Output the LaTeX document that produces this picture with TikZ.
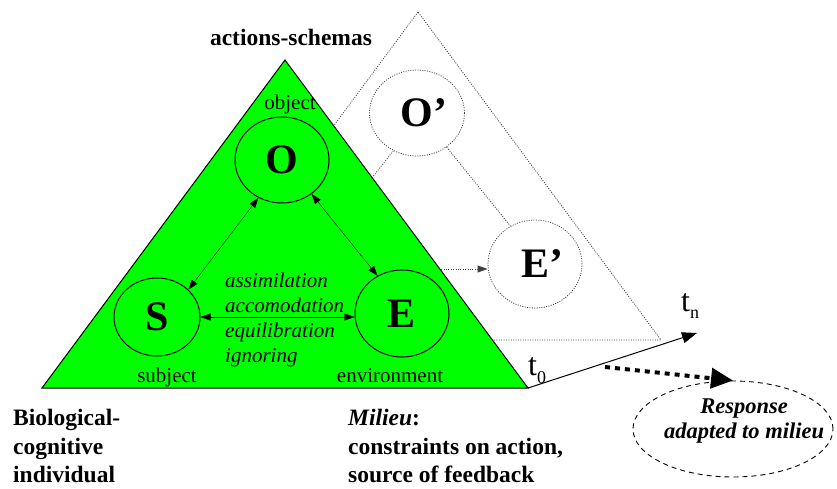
\documentclass[tikz,border=0pt]{standalone}
\usepackage{fontspec}
\setmainfont{Liberation Serif}[
 BoldFont={Liberation Serif Bold},
 ItalicFont={Liberation Serif Italic},
 BoldItalicFont={Liberation Serif Bold Italic}]
\usetikzlibrary{shapes.geometric,arrows.meta}

\definecolor{leafgreen}{RGB}{0,255,0}

\tikzset{
 circ/.style={draw, ellipse, inner sep=0pt, line width=1bp, font=\fontsize{42bp}{46bp}\selectfont\bfseries},
 copycirc/.style={circ, draw=black!75, dash pattern=on 1bp off 1.4bp, line width=0.8bp},
 thindot/.style={draw=black!75, dash pattern=on 1bp off 1.4bp, line width=0.8bp},
 tag/.style={inner sep=0pt, anchor=base, font=\fontsize{21bp}{25bp}\selectfont},
 heading/.style={inner sep=0pt, font=\fontsize{23.5bp}{28.5bp}\selectfont\bfseries},
 tip/.style={-{Triangle[length=10bp,width=7bp]}},
 bothtips/.style={{Triangle[length=10bp,width=7bp]}-{Triangle[length=10bp,width=7bp]}},
 tfont/.style={inner sep=0pt, anchor=base west, font=\fontsize{32bp}{32bp}\selectfont}
}

\begin{document}
\begin{tikzpicture}[x=1bp, y=-1bp]
 \useasboundingbox (0,0) rectangle (837,489);
 % the shifted copy (at t_n)
 \draw[thindot] (418,12) -- (175,340) -- (661,340) -- cycle;
 \node[copycirc, minimum width=95bp, minimum height=86bp] (Oc) at (417,113) {O\rlap{’}};
 \node[ellipse, minimum width=86bp, minimum height=78bp, inner sep=0pt] (Sc) at (290,269) {};
 \node[copycirc, minimum width=94bp, minimum height=88bp] (Ec) at (535,264) {E\rlap{’}};
 \draw[thindot] (Oc.238) -- (Sc.41);
 \draw[thindot] (Oc.311) -- (Ec.123);
 \draw[thindot, tip] (Sc.east) -- (Sc.east -| Ec.west);

 % the triangle at t_0
 \draw[fill=leafgreen, line width=1bp] (285,60) -- (42,388) -- (528,388) -- cycle;
 \node[circ, minimum width=94bp, minimum height=86bp] (O) at (282,160) {O};
 \node[circ, minimum width=86bp, minimum height=78bp] (S) at (157,317) {S};
 \node[circ, minimum width=94bp, minimum height=87bp] (E) at (402,313.5) {E};
 \draw[bothtips] (O.238) -- (S.41);
 \draw[bothtips] (O.311) -- (E.123);
 \draw[bothtips] (S.east) -- (S.east -| E.west);
 \node[tag] (objlab) at (290,110) {object};
 \node[tag] (sublab) at (167,382) {subject};
 \node[tag] (envlab) at (390,382) {environment};
 \node[inner sep=0pt, anchor=north west, align=left, font=\fontsize{21bp}{25bp}\selectfont\itshape] (verbs) at (225,273)
  {assimilation\\accomodation\\equilibration\\ignoring};
 \node[heading, anchor=base] (schemas) at (291,46) {actions-schemas};

 % time axis
 \coordinate (t0) at (528,388);
 \coordinate (tn) at (697,333);
 \draw[line width=1bp, -{Triangle[length=15bp,width=11bp]}] (t0) -- (tn);
 \node[tfont] (t0lab) at (528,375) {t\raisebox{-8bp}{\fontsize{18bp}{18bp}\selectfont 0}};
 \node[tfont] (tnlab) at (681,312) {t\raisebox{-7bp}{\fontsize{18bp}{18bp}\selectfont n}};

 % response
 \node[ellipse, draw, dash pattern=on 5bp off 4bp, line width=0.9bp, minimum width=200bp, minimum height=96bp] (resp) at (733,429) {};
 \node[inner sep=0pt, align=center, font=\fontsize{22.5bp}{25bp}\selectfont\bfseries\itshape] (resptext) at (744,421)
  {Response\\adapted to milieu};
 \coordinate (rstart) at (605,367);
 \draw[line width=4bp, dash pattern=on 5bp off 5bp, -{Triangle[length=22bp,width=20bp]}] (rstart) -- (resp.north);

 % bottom captions
 \node[heading, anchor=north west, align=left] (indiv) at (13,409) {Biological-\\cognitive\\individual};
 \node[heading, anchor=north west, align=left] (milieu) at (348,409) {\textit{Milieu}:\\constraints on action,\\source of feedback};
\end{tikzpicture}
\end{document}
